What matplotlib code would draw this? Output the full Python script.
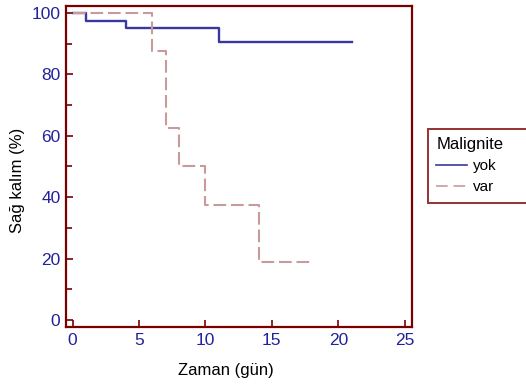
import matplotlib
matplotlib.use("Agg")
import matplotlib.pyplot as plt
from matplotlib.ticker import MultipleLocator
from matplotlib.lines import Line2D

plt.rcParams['font.family'] = ['Liberation Sans', 'DejaVu Sans']

# Kaplan-Meier step data
yok_t = [0, 1, 4, 11, 21]
yok_s = [100, 97.5, 95.0, 90.5, 90.5]
var_t = [0, 6, 7, 8, 10, 14, 18]
var_s = [100, 87.5, 62.5, 50.0, 37.5, 18.75, 18.75]
labels = ['yok', 'var']

xticks = [0, 5, 10, 15, 20, 25]
yticks = [0, 20, 40, 60, 80, 100]

frame_col = '#7a0000'
tick_col = '#22229a'
blue = '#3838a0'
red = '#c99a9a'

fig = plt.figure(figsize=(5.26, 3.85), dpi=100)
ax = fig.add_axes([66/526, 1-327/385, (412-66)/526, (327-6)/385])

ax.step(yok_t, yok_s, where='post', color=blue, lw=1.7)
ax.step(var_t, var_s, where='post', color=red, lw=1.5, ls=(0, (6.1, 2.3)))

ax.set_xlim(-0.5, 25.55)
ax.set_ylim(-2.3, 102.3)
ax.set_xticks(xticks)
ax.set_yticks(yticks)
ax.yaxis.set_minor_locator(MultipleLocator(10))
for s in ax.spines.values():
    s.set_color(frame_col)
    s.set_linewidth(1.6)
ax.tick_params(which='both', direction='in', color=frame_col, width=1.2)
ax.tick_params(which='major', length=5, labelsize=12.5, labelcolor=tick_col, pad=4)
ax.tick_params(which='minor', length=4)

ax.set_xlabel('Zaman (gün)', fontsize=12)
ax.xaxis.set_label_coords((226-66)/346, -(370-327)/321)
ax.xaxis.label.set_va('center')
ax.set_ylabel('Sağ kalım (%)', fontsize=12)
ax.yaxis.set_label_coords(-(66-17)/346, 1-(180-6)/321)
ax.yaxis.label.set_va('center')

handles = [Line2D([], [], color=blue, lw=1.2),
           Line2D([], [], color=red, lw=1.2, ls=(0, (7, 3.5)))]
leg = fig.legend(handles, labels, loc='upper left', mode='expand',
                 bbox_to_anchor=(428/526, 1-202/385, 120/526, 73/385),
                 title='Malignite', fontsize=11, title_fontsize=12,
                 frameon=True, fancybox=False, handlelength=2.0, handletextpad=0.4,
                 borderpad=0.55, borderaxespad=0, labelspacing=0.45)
leg._legend_box.align = 'left'
leg.get_frame().set_edgecolor(frame_col)
leg.get_frame().set_linewidth(1.4)

fig.savefig('out.png', dpi=100)
